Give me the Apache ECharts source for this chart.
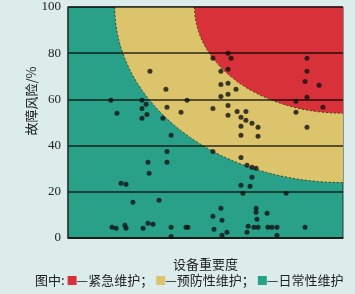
<!DOCTYPE html>
<html><head><meta charset="utf-8">
<script src="https://cdn.jsdelivr.net/npm/echarts@6/dist/echarts.min.js"></script>
<style>html,body{margin:0;padding:0;background:#dcecea;}#c{width:355px;height:294px;}</style>
</head><body><div id="c"></div>
<script>
// Maintenance zones (quarter ellipses anchored at top-right corner, in data units)
const zoneNames = ['紧急维护', '预防性维护', '日常性维护'];
const zoneRadiusX = [54, 83];
const zoneRadiusY = [46, 76];
const yTicks = [0, 20, 40, 60, 80, 100];
// Equipment points: importance (x) and failure risk % (y)
const importance = [15.6,26.9,28.4,17.8,26.9,28.7,26.9,34.5,29.8,35.6,43.3,36.0,41.1,37.5,36.0,36.0,29.1,29.5,19.3,21.1,23.6,33.1,16.0,17.5,20.7,21.1,27.3,29.1,30.9,37.5,37.5,42.9,43.6,
  52.7,58.2,59.3,55.6,58.2,55.6,58.2,61.1,55.6,58.2,52.7,58.2,58.2,61.5,62.9,64.7,64.7,66.9,69.1,62.9,62.9,69.1,52.7,62.9,65.1,66.9,68.4,66.9,62.9,66.2,63.6,79.3,55.6,68.4,68.4,72.4,52.7,56.0,68.7,53.1,57.8,56.0,65.5,67.6,69.1,72.7,74.2,76.0,76.0,86.2,65.1,
  86.9,86.9,86.2,91.3,86.9,82.9,92.7,82.9,86.9];
const risk = [59.6,59.6,57.9,54.0,56.1,53.5,51.8,51.8,72.2,64.4,59.6,56.6,54.4,44.5,37.5,32.8,32.8,28.0,23.7,23.3,15.5,16.3,4.6,4.2,5.5,4.2,4.2,6.4,5.9,4.6,0.7,4.6,4.6,
  77.8,80.0,77.8,72.2,73.0,66.5,67.0,64.4,61.3,62.2,56.1,57.4,53.1,54.8,52.3,54.8,51.0,49.7,47.9,48.4,44.5,44.0,37.5,34.9,31.5,30.6,30.2,26.3,22.8,22.4,19.4,19.4,12.9,12.9,11.1,10.7,9.4,7.7,8.1,3.8,2.5,1.2,5.1,4.6,4.6,4.6,4.6,4.6,1.2,4.6,2.5,
  77.8,72.2,67.8,66.1,60.9,59.2,56.6,54.4,47.9];

const RED = '#d83139', YELLOW = '#dcc46c', GREEN = '#29a088';
const zoneColors = [RED, YELLOW];
const points = importance.map((x, i) => [x, risk[i]]);
const zoneData = [1, 0].map(i => [zoneRadiusX[i], zoneRadiusY[i], i]);

const chart = echarts.init(document.getElementById('c'));
chart.setOption({
  animation: false,
  backgroundColor: '#dcecea',
  grid: { left: 68, right: 12, top: 7, bottom: 56, show: true, backgroundColor: GREEN, borderColor: '#2a3832', borderWidth: 1 },
  xAxis: { type: 'value', min: 0, max: 100, name: '设备重要度', nameLocation: 'middle', nameGap: 20,
    nameTextStyle: { fontFamily: 'Noto Sans CJK SC', fontSize: 13, color: '#222' },
    axisLine: { show: true, lineStyle: { color: '#2a3832', width: 1.5 } }, axisTick: { show: false },
    axisLabel: { show: false }, splitLine: { show: false } },
  yAxis: { type: 'value', min: 0, max: 100, interval: 20, z: 5,
    axisLine: { show: true, lineStyle: { color: '#2a3832', width: 1.5 } }, axisTick: { show: false },
    axisLabel: { margin: 7, fontFamily: 'Liberation Serif', fontSize: 13, color: '#222' },
    splitLine: { show: true, lineStyle: { color: 'rgba(0,0,0,0.6)', width: 2 } } },
  title: {
    text: '图中:{sp|}{r|}—' + zoneNames[0] + '；{sp|}{y|}—' + zoneNames[1] + '；{sp|}{g|}—' + zoneNames[2],
    left: 30, top: 269,
    textStyle: { fontFamily: 'Noto Sans CJK SC', fontSize: 13, fontWeight: 'normal', color: '#222',
      rich: {
        sp: { width: 3, height: 9 },
        r: { width: 9, height: 9, backgroundColor: RED },
        y: { width: 9, height: 9, backgroundColor: YELLOW },
        g: { width: 9, height: 9, backgroundColor: GREEN }
      } }
  },
  graphic: [{ type: 'text', x: 31, y: 101, rotation: Math.PI / 2,
    style: { text: '故障风险/%', fontFamily: 'Noto Sans CJK SC', fontSize: 13, fill: '#222', align: 'center', verticalAlign: 'middle' } }],
  series: [
    { type: 'custom', z: 1, silent: true, data: zoneData,
      renderItem: function (params, api) {
        const c = api.coord([100, 100]);
        const s = api.size([api.value(0), api.value(1)]);
        const a = s[0], b = s[1];
        const col = zoneColors[api.value(2)];
        const fillPath = 'M' + (c[0] - a) + ' ' + c[1] + ' A' + a + ' ' + b + ' 0 0 0 ' + c[0] + ' ' + (c[1] + b) + ' L' + c[0] + ' ' + c[1] + ' Z';
        const arcPath = 'M' + (c[0] - a) + ' ' + c[1] + ' A' + a + ' ' + b + ' 0 0 0 ' + c[0] + ' ' + (c[1] + b);
        return { type: 'group', children: [
          { type: 'path', shape: { pathData: fillPath }, style: { fill: col, stroke: null } },
          { type: 'path', shape: { pathData: arcPath }, style: { fill: null, stroke: 'rgba(40,40,20,0.8)', lineWidth: 1, lineDash: [2, 2] } }
        ] };
      } },
    { type: 'scatter', z: 10, data: points, symbolSize: 5, itemStyle: { color: '#111' } }
  ]
});
</script></body></html>
